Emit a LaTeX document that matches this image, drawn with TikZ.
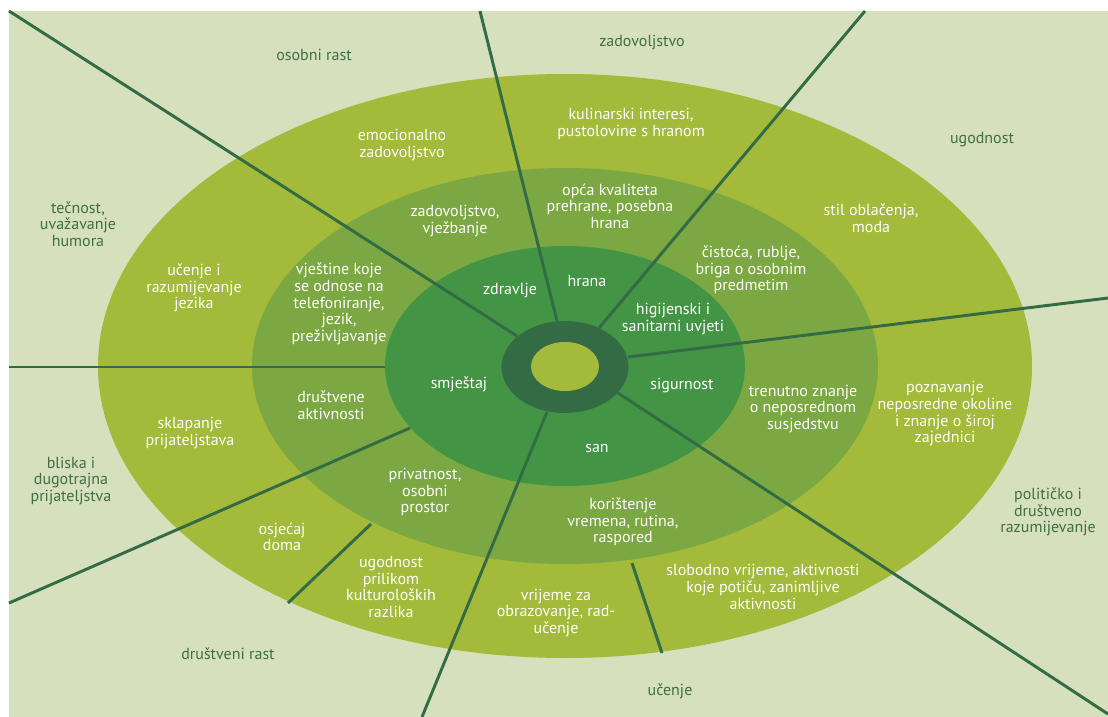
\documentclass[tikz,border=0pt]{standalone}
\usepackage{fontspec}
\setmainfont{PT Sans}
\usepackage{tikz}
\usetikzlibrary{positioning}

\definecolor{bgpale}{HTML}{D6E0BD}
\definecolor{olive}{HTML}{A3BA3A}
\definecolor{midgreen}{HTML}{7BA842}
\definecolor{leaf}{HTML}{439444}
\definecolor{forest}{HTML}{336B45}
\definecolor{labeldark}{HTML}{3F6E48}

\begin{document}
\begin{tikzpicture}[
    x=0.75pt, y=-0.75pt,
    outerlbl/.style={align=center, text=labeldark, inner sep=0pt, font=\fontsize{12}{12.5}\selectfont},
    ringlbl/.style={align=center, text=white, inner sep=0pt, font=\fontsize{12}{12.5}\selectfont},
    spoke/.style={draw=forest, line width=2.2pt}
]
\useasboundingbox (0,0) rectangle (1108,717);

% Background and rings
\fill[bgpale] (9,11) rectangle (1108,717);
\fill[olive] (565,366) ellipse [x radius=350.25pt, y radius=219pt];
\fill[midgreen] (565,366) ellipse [x radius=234.75pt, y radius=148.5pt];
\fill[leaf] (565,366) ellipse [x radius=135pt, y radius=90pt];

% Spoke ends
\coordinate (c_nw) at (517,336);   \coordinate (e_nw) at (9,11);
\coordinate (c_n) at (557,321);    \coordinate (e_n) at (480,11);
\coordinate (c_ne) at (599,328);   \coordinate (e_ne) at (865,11);
\coordinate (c_e) at (628,357);    \coordinate (e_e) at (1108,298);
\coordinate (c_se) at (618,393);   \coordinate (e_se) at (1108,714);
\coordinate (c_s) at (547,412);    \coordinate (e_s) at (422,717);
\coordinate (c_sw) at (410,428);   \coordinate (e_sw) at (9,603);
\coordinate (c_w) at (385,367);    \coordinate (e_w) at (9,367);
\coordinate (m_home) at (371,524); \coordinate (o_home) at (288,603);
\coordinate (m_time) at (632,563); \coordinate (o_time) at (662,653);

% Spokes
\draw[spoke] (c_nw) -- (e_nw);
\draw[spoke] (c_n) -- (e_n);
\draw[spoke] (c_ne) -- (e_ne);
\draw[spoke] (c_e) -- (e_e);
\draw[spoke] (c_se) -- (e_se);
\draw[spoke] (c_s) -- (e_s);
\draw[spoke] (c_sw) -- (e_sw);
\draw[spoke] (c_w) -- (e_w);
\draw[spoke] (m_home) -- (o_home);
\draw[spoke] (m_time) -- (o_time);

% Core
\fill[forest] (565,367) ellipse [x radius=47.6pt, y radius=34.5pt];
\fill[olive] (565,366.5) ellipse [x radius=25.5pt, y radius=18.4pt];

% Outside the rings
\node[outerlbl] (osobni) at (314,55) {osobni rast};
\node[outerlbl] (zadovoljstvo) at (642,43) {zadovoljstvo};
\node[outerlbl] (ugodnost) at (982,140) {ugodnost};
\node[outerlbl] (tecnost) at (78,224) {tečnost,\\uvažavanje\\humora};
\node[outerlbl] (bliska) at (71,481) {bliska i\\dugotrajna\\prijateljstva};
\node[outerlbl] (drustveni) at (228,654) {društveni rast};
\node[outerlbl] (ucenje) at (670,691) {učenje};
\node[outerlbl] (politicko) at (1048,512) {političko i\\društveno\\razumijevanje};

% Outer ring
\node[ringlbl] (emocionalno) at (402,145) {emocionalno\\zadovoljstvo};
\node[ringlbl] (kulinarski) at (631,124) {kulinarski interesi,\\pustolovine s hranom};
\node[ringlbl] (stil) at (871,218) {stil oblačenja,\\moda};
\node[ringlbl] (jezik) at (194,288) {učenje i\\razumijevanje\\jezika};
\node[ringlbl] (sklapanje) at (190,433) {sklapanje\\prijateljstava};
\node[ringlbl] (doma) at (282,537) {osjećaj\\doma};
\node[ringlbl] (kultura) at (391,587) {ugodnost\\prilikom\\kulturoloških\\razlika};
\node[ringlbl] (obrazovanje) at (556,613) {vrijeme za\\obrazovanje, rad-\\učenje};
\node[ringlbl] (slobodno) at (763,587) {slobodno vrijeme, aktivnosti\\koje potiču, zanimljive\\aktivnosti};
\node[ringlbl] (okolina) at (945,414) {poznavanje\\neposredne okoline\\i znanje o široj\\zajednici};

% Middle ring
\node[ringlbl] (vjezbanje) at (455,221) {zadovoljstvo,\\vježbanje};
\node[ringlbl] (prehrana) at (610,206) {opća kvaliteta\\prehrane, posebna\\hrana};
\node[ringlbl] (cistoca) at (751,270) {čistoća, rublje,\\briga o osobnim\\predmetim};
\node[ringlbl] (vjestine) at (339,304) {vještine koje\\se odnose na\\telefoniranje,\\jezik,\\preživljavanje};
\node[ringlbl] (aktivnosti) at (331,405) {društvene\\aktivnosti};
\node[ringlbl] (privatnost) at (425,492) {privatnost,\\osobni\\prostor};
\node[ringlbl] (rutina) at (623,522) {korištenje\\vremena, rutina,\\raspored};
\node[ringlbl] (susjedstvo) at (803,409) {trenutno znanje\\o neposrednom\\susjedstvu};

% Inner ring
\node[ringlbl] (zdravlje) at (510,291) {zdravlje};
\node[ringlbl] (hrana) at (587,281) {hrana};
\node[ringlbl] (higijena) at (673,319) {higijenski i\\sanitarni uvjeti};
\node[ringlbl] (smjestaj) at (459,384) {smještaj};
\node[ringlbl] (sigurnost) at (682,386) {sigurnost};
\node[ringlbl] (san) at (597,448) {san};

\end{tikzpicture}
\end{document}
